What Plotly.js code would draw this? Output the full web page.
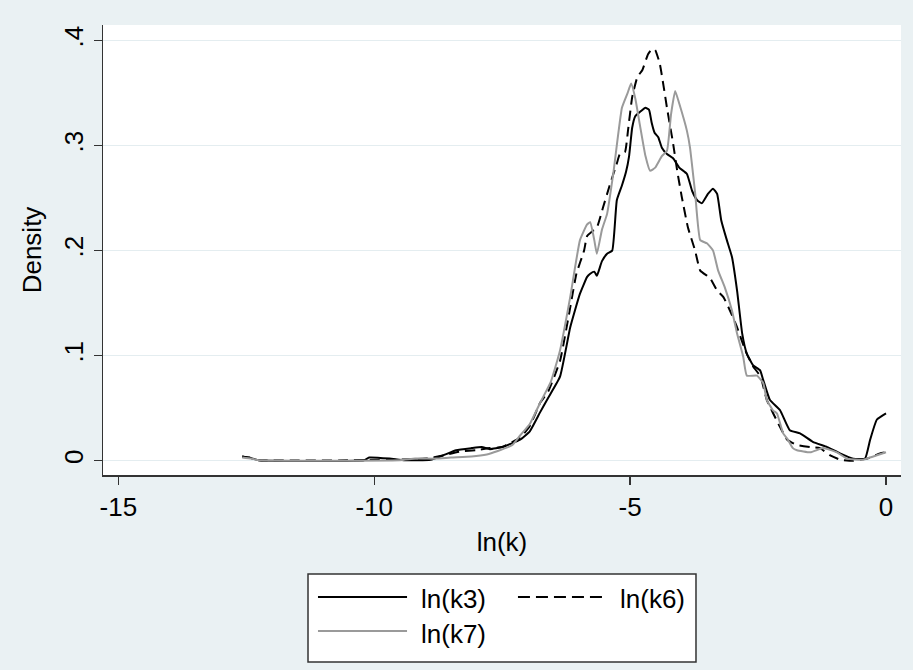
<!DOCTYPE html>
<html>
<head>
<meta charset="utf-8">
<script src="https://cdn.plot.ly/plotly-3.0.1.min.js"></script>
<style>html,body{margin:0;padding:0;background:#eaf1f3;}#chart{width:913px;height:670px;}</style>
</head>
<body>
<div id="chart"></div>
<script>
// ---- data ----
var seriesNames = ["ln(k3)", "ln(k6)", "ln(k7)"];

var k3x = [-12.58,-12.45,-12.25,-10.2,-10.1,-9.7,-9.4,-8.9,-8.66,-8.4,-8.1,-7.9,-7.74,-7.5,-7.15,-6.96,-6.76,-6.6,-6.37,-6.17,-5.98,-5.84,-5.78,-5.70,-5.65,-5.55,-5.45,-5.35,-5.26,-5.16,-5.08,-5.02,-4.96,-4.90,-4.81,-4.70,-4.63,-4.58,-4.52,-4.45,-4.38,-4.28,-4.16,-4.04,-3.89,-3.79,-3.69,-3.60,-3.48,-3.38,-3.30,-3.22,-3.11,-3.01,-2.91,-2.81,-2.72,-2.60,-2.46,-2.40,-2.27,-2.07,-1.88,-1.68,-1.43,-1.15,-0.90,-0.64,-0.41,-0.31,-0.18,0];
var k3y = [0.004,0.003,0.0005,0.0005,0.003,0.002,0.0005,0.001,0.005,0.010,0.012,0.013,0.011,0.013,0.020,0.028,0.046,0.060,0.080,0.127,0.159,0.175,0.178,0.180,0.176,0.190,0.197,0.200,0.248,0.262,0.275,0.290,0.317,0.328,0.332,0.336,0.334,0.322,0.312,0.308,0.298,0.292,0.288,0.279,0.273,0.257,0.248,0.245,0.254,0.259,0.254,0.229,0.210,0.194,0.162,0.121,0.102,0.091,0.086,0.077,0.058,0.048,0.029,0.026,0.018,0.013,0.007,0.002,0.002,0.020,0.039,0.045];

var k6x = [-12.58,-12.45,-12.25,-10.2,-9.6,-9.0,-8.66,-8.3,-8.0,-7.74,-7.5,-7.15,-6.96,-6.76,-6.6,-6.37,-6.17,-6.05,-5.9,-5.84,-5.75,-5.65,-5.53,-5.40,-5.26,-5.20,-5.10,-5.04,-4.96,-4.86,-4.76,-4.65,-4.57,-4.51,-4.42,-4.28,-4.16,-4.08,-3.99,-3.87,-3.73,-3.63,-3.44,-3.30,-3.18,-3.05,-2.91,-2.75,-2.60,-2.45,-2.33,-2.07,-1.93,-1.74,-1.48,-1.29,-1.09,-0.90,-0.64,-0.37,-0.12,0];
var k6y = [0.004,0.003,0.0005,0.0005,0.001,0.002,0.005,0.009,0.010,0.012,0.013,0.022,0.033,0.055,0.066,0.095,0.146,0.178,0.200,0.214,0.218,0.222,0.241,0.262,0.283,0.292,0.294,0.315,0.346,0.365,0.372,0.387,0.392,0.391,0.378,0.336,0.302,0.276,0.251,0.222,0.200,0.181,0.174,0.162,0.156,0.143,0.127,0.105,0.090,0.080,0.058,0.032,0.020,0.015,0.013,0.012,0.005,0.001,0.000,0.002,0.007,0.008];

var k7x = [-12.58,-12.4,-12.25,-9.5,-9.2,-8.8,-8.5,-8.1,-7.8,-7.6,-7.3,-7.15,-6.96,-6.76,-6.55,-6.37,-6.17,-5.98,-5.84,-5.78,-5.70,-5.65,-5.55,-5.45,-5.33,-5.16,-5.05,-4.98,-4.90,-4.81,-4.70,-4.61,-4.51,-4.38,-4.28,-4.20,-4.12,-4.04,-3.89,-3.83,-3.73,-3.63,-3.50,-3.38,-3.28,-3.15,-3.01,-2.91,-2.79,-2.72,-2.52,-2.40,-2.33,-2.21,-2.13,-2.01,-1.93,-1.82,-1.74,-1.48,-1.23,-0.96,-0.76,-0.45,-0.25,0];
var k7y = [0.003,0.002,0.0005,0.0005,0.002,0.002,0.003,0.004,0.006,0.009,0.015,0.024,0.035,0.055,0.075,0.105,0.156,0.210,0.225,0.227,0.210,0.197,0.220,0.235,0.273,0.336,0.350,0.359,0.345,0.320,0.290,0.276,0.279,0.290,0.295,0.330,0.352,0.340,0.314,0.298,0.255,0.210,0.207,0.200,0.181,0.165,0.143,0.121,0.099,0.081,0.081,0.074,0.058,0.048,0.045,0.026,0.021,0.012,0.010,0.008,0.012,0.008,0.002,0.001,0.004,0.008];

var xTickVals = [-15,-10,-5,0];
var xTickText = ["-15","-10","-5","0"];
var yTickVals = [0,0.1,0.2,0.3,0.4];
var yTickText = ["0",".1",".2",".3",".4"];

// ---- styling ----
var FONT = "Liberation Sans, Arial, Helvetica, sans-serif";
var FS = 26;
var GRAY = "#9a9a9a";

var traces = [
  {x:k3x, y:k3y, name:seriesNames[0], mode:"lines", line:{color:"#000000", width:2, shape:"spline", smoothing:0.4}},
  {x:k6x, y:k6y, name:seriesNames[1], mode:"lines", line:{color:"#000000", width:2, dash:"10px,6px", shape:"spline", smoothing:0.4}},
  {x:k7x, y:k7y, name:seriesNames[2], mode:"lines", line:{color:GRAY, width:2, shape:"spline", smoothing:0.4}}
];

// manual Stata-style legend (box + long sample lines)
var legRowY = [-0.2711, -0.3467];
var shapes = [
  {type:"rect", xref:"paper", yref:"paper", x0:0.2569, x1:0.7431, y0:-0.4156, y1:-0.22, line:{color:"#333333", width:1.5}, fillcolor:"#ffffff", layer:"below"},
  {type:"line", xref:"paper", yref:"paper", x0:0.2694, x1:0.3810, y0:legRowY[0], y1:legRowY[0], line:{color:"#000000", width:2}},
  {type:"line", xref:"paper", yref:"paper", x0:0.5200, x1:0.6303, y0:legRowY[0], y1:legRowY[0], line:{color:"#000000", width:2, dash:"12px,6px"}},
  {type:"line", xref:"paper", yref:"paper", x0:0.2694, x1:0.3810, y0:legRowY[1], y1:legRowY[1], line:{color:GRAY, width:2}}
];
var annotations = [
  {xref:"paper", yref:"paper", x:0.396, y:legRowY[0]-0.004, text:seriesNames[0], showarrow:false, xanchor:"left", yanchor:"middle", font:{family:FONT, size:FS, color:"#000"}},
  {xref:"paper", yref:"paper", x:0.6454, y:legRowY[0]-0.004, text:seriesNames[1], showarrow:false, xanchor:"left", yanchor:"middle", font:{family:FONT, size:FS, color:"#000"}},
  {xref:"paper", yref:"paper", x:0.396, y:legRowY[1]-0.006, text:seriesNames[2], showarrow:false, xanchor:"left", yanchor:"middle", font:{family:FONT, size:FS, color:"#000"}}
];

var layout = {
  width:913, height:670,
  margin:{l:103, r:12, t:25, b:195},
  paper_bgcolor:"#eaf1f3",
  plot_bgcolor:"#ffffff",
  showlegend:false,
  font:{family:FONT, size:FS, color:"#000"},
  xaxis:{
    range:[-15.3, 0.293], tickmode:"array", tickvals:xTickVals, ticktext:xTickText,
    ticks:"outside", ticklen:8, tickwidth:1.3, tickcolor:"#333",
    showline:true, linecolor:"#333", linewidth:1.5, mirror:false,
    showgrid:false, zeroline:false,
    tickfont:{family:FONT, size:FS, color:"#000"},
    title:{text:"ln(k)", font:{family:FONT, size:FS, color:"#000"}, standoff:12},
    automargin:false
  },
  yaxis:{
    range:[-0.0136, 0.4148], tickmode:"array", tickvals:yTickVals, ticktext:yTickText,
    tickangle:-90,
    ticks:"outside", ticklen:8, tickwidth:1.3, tickcolor:"#333",
    showline:true, linecolor:"#333", linewidth:1.5,
    showgrid:true, gridcolor:"#e4edf0", gridwidth:1.5, zeroline:false,
    tickfont:{family:FONT, size:FS, color:"#000"},
    title:{text:"Density", font:{family:FONT, size:FS, color:"#000"}, standoff:10},
    automargin:false
  },
  shapes:shapes,
  annotations:annotations
};

Plotly.newPlot("chart", traces, layout, {displayModeBar:false, staticPlot:true});
</script>
</body>
</html>
